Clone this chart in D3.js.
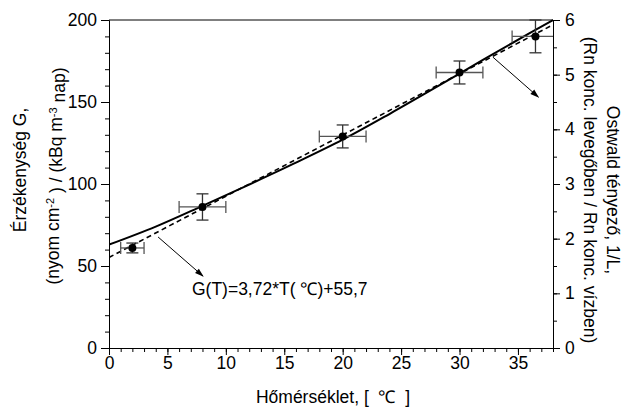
<!DOCTYPE html>
<html>
<head>
<meta charset="utf-8">
<script src="https://cdn.jsdelivr.net/npm/d3@7"></script>
<style>
  body { margin: 0; background: #fff; }
  svg text { font-family: "Liberation Sans", Arial, sans-serif; fill: #000; }
</style>
</head>
<body>
<div id="chart"></div>
<script>
// measured points (temperature, sensitivity) with error bars
var temps = [2, 8, 20, 30, 36.5];
var sens = [61, 86, 129, 168, 190];
var tempErr = [1, 2, 2, 2, 2];
var sensErr = [3, 8, 7, 7, 10];

// Ostwald coefficient curve (right axis)
var ostT = [0, 4, 8, 12, 16, 20, 24, 28, 32, 36, 38];
var ostVal = [1.89, 2.22, 2.6, 2.99, 3.39, 3.81, 4.28, 4.77, 5.27, 5.76, 6.0];

// linear fit line G(T)=3,72*T+55,7 (endpoints)
var fitT = [0, 38];
var fitG = [55.2, 197.1];

var xTicks = [0, 5, 10, 15, 20, 25, 30, 35];
var yTicks = [0, 50, 100, 150, 200];
var y2Ticks = [0, 1, 2, 3, 4, 5, 6];

var width = 629, height = 409;
var margin = {left: 109, right: 76, top: 20, bottom: 61};

var svg = d3.select("#chart").append("svg")
    .attr("width", width)
    .attr("height", height);

var x = d3.scaleLinear().domain([0, 38]).range([margin.left, width - margin.right]);
var y = d3.scaleLinear().domain([0, 200]).range([height - margin.bottom, margin.top]);
var y2 = d3.scaleLinear().domain([0, 6]).range([height - margin.bottom, margin.top]);

var fontSize = 17.5;

svg.append("defs").append("marker")
    .attr("id", "arrow")
    .attr("viewBox", "0 0 10 10")
    .attr("refX", 9).attr("refY", 5)
    .attr("markerWidth", 10).attr("markerHeight", 9)
    .attr("markerUnits", "userSpaceOnUse")
    .attr("orient", "auto")
    .append("path")
    .attr("d", "M0,1.8 L10,5 L0,8.2 z")
    .attr("fill", "#000");

svg.append("clipPath").attr("id", "plotClip")
    .append("rect")
    .attr("x", x(0)).attr("y", y(200) - 12)
    .attr("width", x(38) - x(0)).attr("height", y(0) - y(200) + 12);

//minor ticks first (no labels)
svg.append("g")
    .attr("transform", "translate(0," + y(0) + ")")
    .call(d3.axisBottom(x).tickValues(d3.range(0, 39, 1)).tickSize(4).tickFormat("").tickSizeOuter(0));
svg.append("g")
    .attr("transform", "translate(" + x(0) + ",0)")
    .call(d3.axisLeft(y).tickValues(d3.range(0, 201, 10)).tickSize(4).tickFormat("").tickSizeOuter(0));
svg.append("g")
    .attr("transform", "translate(" + x(38) + ",0)")
    .call(d3.axisRight(y2).tickValues(d3.range(0, 6.01, 0.5)).tickSize(4).tickFormat("").tickSizeOuter(0));

//major ticks
svg.append("g")
    .attr("transform", "translate(0," + y(0) + ")")
    .call(d3.axisBottom(x).tickValues(xTicks).tickSize(7).tickPadding(2).tickSizeOuter(0));
svg.append("g")
    .attr("transform", "translate(" + x(0) + ",0)")
    .call(d3.axisLeft(y).tickValues(yTicks).tickSize(8).tickPadding(4).tickSizeOuter(0));
svg.append("g")
    .attr("transform", "translate(" + x(38) + ",0)")
    .call(d3.axisRight(y2).tickValues(y2Ticks).tickFormat(d3.format("d")).tickSize(7).tickPadding(5).tickSizeOuter(0));

svg.selectAll(".tick text")
    .style("font-size", fontSize + "px")
    .style("font-family", "Liberation Sans, Arial, sans-serif");
svg.selectAll(".domain, .tick line").attr("stroke", "#000").attr("stroke-width", 1);

// top frame line
svg.append("line")
    .attr("x1", x(0)).attr("x2", x(38))
    .attr("y1", y(200)).attr("y2", y(200))
    .attr("stroke", "#000");

var plot = svg.append("g").attr("clip-path", "url(#plotClip)");

// Ostwald curve (solid)
var ostData = ostT.map(function(t, i){ return {t: t, v: ostVal[i]}; });
plot.append("path")
    .datum(ostData)
    .attr("fill", "none")
    .attr("stroke", "#000")
    .attr("stroke-width", 2)
    .attr("d", d3.line()
        .x(function(d){ return x(d.t); })
        .y(function(d){ return y2(d.v); })
        .curve(d3.curveMonotoneX));

// fit line (dashed)
var fitData = fitT.map(function(t, i){ return {t: t, g: fitG[i]}; });
plot.append("path")
    .datum(fitData)
    .attr("fill", "none")
    .attr("stroke", "#000")
    .attr("stroke-width", 1.6)
    .attr("stroke-dasharray", "5,3.5")
    .attr("d", d3.line()
        .x(function(d){ return x(d.t); })
        .y(function(d){ return y(d.g); }));

// error bars
var pts = temps.map(function(t, i){
    return {t: t, g: sens[i], et: tempErr[i], eg: sensErr[i]};
});
var cap = 6;
var eb = plot.selectAll(".err").data(pts).enter().append("g").attr("class", "err")
    .attr("stroke", "#555").attr("stroke-width", 1.3).attr("fill", "none");
eb.append("line")
    .attr("x1", function(d){ return x(d.t - d.et); })
    .attr("x2", function(d){ return x(d.t + d.et); })
    .attr("y1", function(d){ return y(d.g); })
    .attr("y2", function(d){ return y(d.g); });
eb.append("line")
    .attr("x1", function(d){ return x(d.t - d.et); })
    .attr("x2", function(d){ return x(d.t - d.et); })
    .attr("y1", function(d){ return y(d.g) - cap; })
    .attr("y2", function(d){ return y(d.g) + cap; });
eb.append("line")
    .attr("x1", function(d){ return x(d.t + d.et); })
    .attr("x2", function(d){ return x(d.t + d.et); })
    .attr("y1", function(d){ return y(d.g) - cap; })
    .attr("y2", function(d){ return y(d.g) + cap; });
eb.append("line")
    .attr("stroke", "#333")
    .attr("x1", function(d){ return x(d.t); })
    .attr("x2", function(d){ return x(d.t); })
    .attr("y1", function(d){ return y(d.g - d.eg); })
    .attr("y2", function(d){ return y(d.g + d.eg); });
eb.append("line")
    .attr("stroke", "#333")
    .attr("x1", function(d){ return x(d.t) - cap; })
    .attr("x2", function(d){ return x(d.t) + cap; })
    .attr("y1", function(d){ return y(d.g - d.eg); })
    .attr("y2", function(d){ return y(d.g - d.eg); });
eb.append("line")
    .attr("stroke", "#333")
    .attr("x1", function(d){ return x(d.t) - cap; })
    .attr("x2", function(d){ return x(d.t) + cap; })
    .attr("y1", function(d){ return y(d.g + d.eg); })
    .attr("y2", function(d){ return y(d.g + d.eg); });

svg.selectAll(".pt").data(pts).enter().append("circle")
    .attr("cx", function(d){ return x(d.t); })
    .attr("cy", function(d){ return y(d.g); })
    .attr("r", 4)
    .attr("fill", "#000");

// arrows
var arrows = [
    {t1: 4.2, g1: 67.7, t2: 8.05, g2: 43.8},
    {t1: 32.85, g1: 177.4, t2: 36.75, g2: 153}
];
svg.selectAll(".arr").data(arrows).enter().append("line")
    .attr("x1", function(d){ return x(d.t1); })
    .attr("y1", function(d){ return y(d.g1); })
    .attr("x2", function(d){ return x(d.t2); })
    .attr("y2", function(d){ return y(d.g2); })
    .attr("stroke", "#000")
    .attr("stroke-width", 1)
    .attr("marker-end", "url(#arrow)");

svg.append("text")
    .attr("x", x(7.1))
    .attr("y", y(32.3))
    .style("font-size", fontSize + "px")
    .style("white-space", "pre")
    .text("G(T)=3,72*T( \u2103)+55,7");

// axis titles
svg.append("text")
    .attr("x", (x(0) + x(38)) / 2 + 2)
    .attr("y", 403)
    .attr("text-anchor", "middle")
    .style("font-size", fontSize + "px")
    .style("white-space", "pre")
    .text("H\u0151m\u00e9rs\u00e9klet, [  \u2103  ]");

svg.append("text")
    .attr("transform", "translate(20,170) rotate(-90)")
    .attr("dy", "0.35em")
    .attr("text-anchor", "middle")
    .style("font-size", fontSize + "px")
    .text("\u00c9rz\u00e9kenys\u00e9g G,");

var t2 = svg.append("text")
    .attr("transform", "translate(53,176) rotate(-90)")
    .attr("dy", "0.35em")
    .attr("text-anchor", "middle")
    .style("font-size", fontSize + "px");
t2.append("tspan").text("(nyom cm");
t2.append("tspan").attr("dy", "-0.45em").style("font-size", "11px").text("-2");
t2.append("tspan").attr("dy", "0.45em").text(" ) / (kBq m");
t2.append("tspan").attr("dy", "-0.45em").style("font-size", "11px").text("-3");
t2.append("tspan").attr("dy", "0.45em").text(" nap)");

svg.append("text")
    .attr("transform", "translate(613,190) rotate(90)")
    .attr("dy", "0.35em")
    .attr("text-anchor", "middle")
    .style("font-size", fontSize + "px")
    .text("Ostwald t\u00e9nyez\u0151, 1/L,");

svg.append("text")
    .attr("transform", "translate(590,190) rotate(90)")
    .attr("dy", "0.35em")
    .attr("text-anchor", "middle")
    .style("font-size", fontSize + "px")
    .text("(Rn konc. leveg\u0151ben / Rn konc. v\u00edzben)");
</script>
</body>
</html>
